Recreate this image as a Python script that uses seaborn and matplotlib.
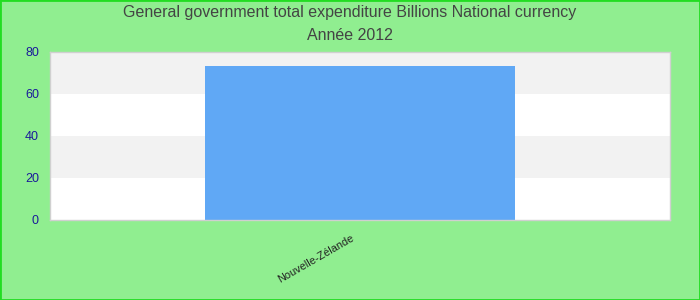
import matplotlib
matplotlib.use("Agg")
import matplotlib.pyplot as plt
import matplotlib.transforms as mtransforms
import seaborn as sns
import pandas as pd

countries = ["Nouvelle-Zélande"]
values = [73.3]
yticks = [0, 20, 40, 60, 80]
title_line1 = "General government total expenditure Billions National currency"
title_line2 = "Année 2012"

sns.set_theme(style="white")
plt.rcParams['font.family'] = ['Liberation Sans', 'DejaVu Sans']

df = pd.DataFrame({"pays": countries, "valeur": values})

fig = plt.figure(figsize=(7, 3), dpi=100, facecolor="#90ee90")
fig.patches.append(plt.Rectangle((0, 0), 1, 1, transform=fig.transFigure,
                                 fill=False, edgecolor="#22dd22", linewidth=2))
ax = fig.add_axes([50/700, 80/300, 620/700, 168/300])
ax.set_facecolor("white")

for i in range(len(yticks) - 1):
    if i % 2 == 1:
        ax.axhspan(yticks[i], yticks[i+1], color="#f2f2f2", zorder=0, linewidth=0)

sns.barplot(data=df, x="pays", y="valeur", color="#60a8f5", saturation=1,
            width=0.5, ax=ax, zorder=2, linewidth=0)

ax.set_xlim(-0.5, 0.5)
ax.set_ylim(0, 80)
ax.set_yticks(yticks)
ax.set_yticklabels([str(v) for v in yticks], color="#1a1a9a", fontsize=9)
ax.tick_params(axis="both", length=0, pad=8)
ax.set_xticks([0])
ax.set_xticklabels(countries, rotation=30, ha="right", rotation_mode="anchor",
                   fontsize=7.8, color="#222222")
ax.tick_params(axis="x", pad=9)
offset = mtransforms.ScaledTranslation(-9/100, 0, fig.dpi_scale_trans)
for lbl in ax.get_xticklabels():
    lbl.set_transform(lbl.get_transform() + offset)
ax.set_xlabel("")
ax.set_ylabel("")
for s in ax.spines.values():
    s.set_color("#d0d0d0")
    s.set_linewidth(1)

fig.text(0.5, 1 - 13/300, title_line1, ha="center", va="center",
         fontsize=11.5, color="#444444")
fig.text(0.5, 1 - 35/300, title_line2, ha="center", va="center",
         fontsize=11.5, color="#444444")

fig.savefig("out.png", dpi=100, facecolor=fig.get_facecolor())
